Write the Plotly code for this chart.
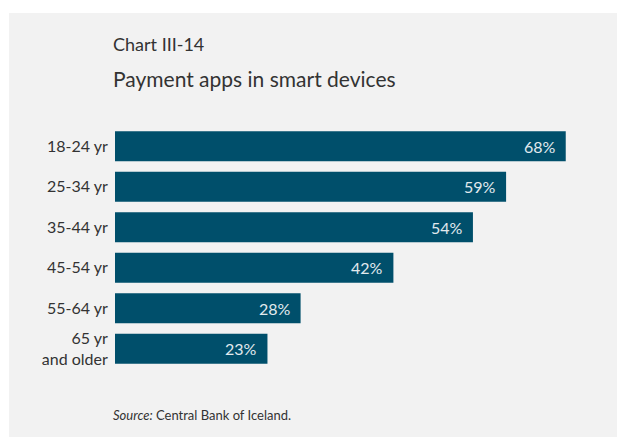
import plotly.graph_objects as go

categories = ["18-24 yr", "25-34 yr", "35-44 yr", "45-54 yr", "55-64 yr", "65 yr<br>and older"]
values = [68, 59, 54, 42, 28, 23]
value_labels = ["68%", "59%", "54%", "42%", "28%", "23%"]

BAR = "#004f6b"
PANEL = "#f2f2f2"
TXT = "#333333"
FONT = "Lato"

W, H = 617, 437
ML, MR, MT, MB = 115, 38, 126, 68
PW = W - ML - MR
PH = H - MT - MB


def px(x):
    return (x - ML) / PW


def py(y):
    return (H - MB - y) / PH


fig = go.Figure()
fig.add_trace(go.Bar(
    x=values, y=categories, orientation="h",
    marker=dict(color=BAR, line=dict(width=0)),
    hoverinfo="skip",
))

annotations = []
for c, v, t in zip(categories, values, value_labels):
    annotations.append(dict(
        x=v, y=c, xref="x", yref="y", text=t, showarrow=False,
        xanchor="right", yanchor="middle", xshift=-8,
        font=dict(family=FONT, size=16, color="#e2eaee"),
    ))

annotations += [
    dict(x=px(111), y=py(44), xref="paper", yref="paper", text="Chart III-14",
         showarrow=False, xanchor="left", yanchor="middle",
         font=dict(family=FONT, size=18, color=TXT)),
    dict(x=px(111), y=py(78), xref="paper", yref="paper", text="Payment apps in smart devices",
         showarrow=False, xanchor="left", yanchor="middle",
         font=dict(family=FONT, size=21, color=TXT)),
    dict(x=px(111), y=py(415), xref="paper", yref="paper",
         text="<i>Source:</i> Central Bank of Iceland.",
         showarrow=False, xanchor="left", yanchor="middle",
         font=dict(family=FONT, size=13, color=TXT)),
]

fig.update_layout(
    width=W, height=H,
    margin=dict(l=ML, r=MR, t=MT, b=MB, pad=0),
    paper_bgcolor="white",
    plot_bgcolor="rgba(0,0,0,0)",
    showlegend=False,
    bargap=0.26,
    annotations=annotations,
    shapes=[dict(type="rect", xref="paper", yref="paper", layer="below",
                 x0=px(9), x1=px(640), y0=py(460), y1=py(13),
                 fillcolor=PANEL, line=dict(width=0))],
    xaxis=dict(range=[0, 70], visible=False, fixedrange=True),
    yaxis=dict(autorange="reversed", showgrid=False, zeroline=False, showline=False,
               ticks="outside", ticklen=3, tickcolor="rgba(0,0,0,0)",
               tickfont=dict(family=FONT, size=16, color=TXT), fixedrange=True),
)

fig.write_html("out.html", config={"displayModeBar": False},
               post_script="document.body.style.margin='0';document.body.style.overflow='hidden';")
